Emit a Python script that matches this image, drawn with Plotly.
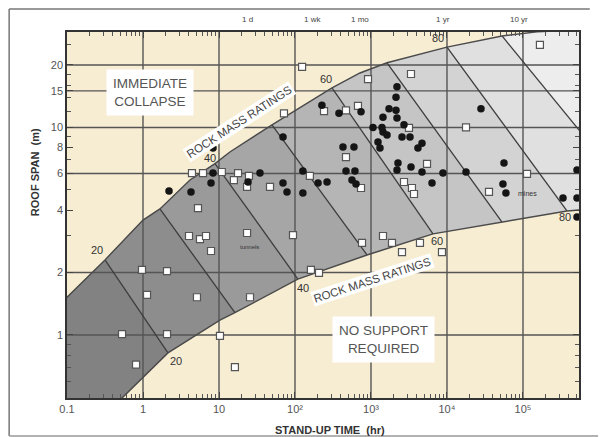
import math
import plotly.graph_objects as go

# ---------------- data (hours, metres) ----------------
# filled circles
circ_x = [2.2, 4.28, 7.85, 8.34, 8.34, 24.1, 34.6, 69.5, 69.5, 78.5, 127, 127, 201, 264,
          226, 379, 739, 428, 597, 469, 615, 562, 635,
          2198, 2133, 1726, 2133, 2198, 1438, 1063, 1395, 1438, 1625, 2718, 2558, 3259,
          1236, 1313, 4690, 4150, 2265, 2198, 3360, 4690, 6350, 8850, 17800, 28000,
          56200, 54500, 59700, 336000, 514000, 514000, 514000]
circ_y = [4.94, 4.89, 5.40, 7.96, 6.03, 5.46, 6.03, 9.0, 5.40, 4.89, 6.17, 4.83, 5.40, 5.46,
          12.8, 11.7, 11.9, 8.05, 8.05, 6.17, 6.17, 5.58, 5.34,
          15.7, 14.0, 12.3, 12.1, 11.1, 11.2, 10.0, 10.0, 9.5, 9.2, 10.3, 9.0, 9.0,
          8.5, 7.96, 8.4, 7.96, 6.74, 6.24, 6.45, 6.10, 5.40, 6.03, 6.10, 12.3,
          6.74, 5.34, 4.83, 4.57, 4.57, 6.24, 3.70]

# open squares
sq_x = [4.41, 6.16, 10.9, 17.8, 24.8, 15.7, 23.4, 46.9, 5.29, 71.6, 124, 157, 241, 469, 674,
        469, 914, 3360, 3162, 17800, 5460, 2718, 3460, 3680, 739, 113000, 35700, 167000,
        4.03, 5.62, 6.75, 7.85, 0.97, 2.07, 1.13, 5.13, 0.53, 2.07, 10.3, 0.81, 16.2,
        23.4, 94.1, 762, 1438, 1889, 2558, 4410, 8590, 162, 207, 25.6]
sq_y = [6.03, 6.03, 6.10, 6.03, 5.84, 5.58, 5.17, 5.17, 4.09, 11.7, 19.6, 5.84, 12.0, 12.1, 12.7,
        7.2, 17.1, 18.1, 9.95, 10.0, 6.67, 5.46, 5.11, 4.78, 5.11, 5.97, 4.89, 25.0,
        3.00, 2.90, 3.00, 2.54, 2.06, 2.03, 1.56, 1.52, 1.01, 1.01, 0.99, 0.72, 0.70,
        3.10, 3.03, 2.78, 3.00, 2.78, 2.51, 2.78, 2.51, 2.06, 1.99, 1.52]

# upper limit curve (immediate collapse)
up_x = [0.05, 0.1, 0.316, 1.0, 1.67, 4.15, 8.86, 13.9, 49.8, 307, 716, 1625, 10000, 27200, 53000, 153000, 700000]
up_y = [1.2, 1.52, 2.30, 3.58, 4.05, 5.58, 6.7, 7.62, 10.3, 15.5, 18.3, 20.5, 24.4, 26.4, 27.6, 28.9, 29.6]
# lower limit curve (no support required)
lo_x = [0.05, 0.37, 0.53, 2.13, 10.3, 16.2, 109, 886, 6540, 53000, 100000, 379000, 700000]
lo_y = [0.3, 0.41, 0.497, 0.82, 1.18, 1.28, 1.86, 2.43, 3.07, 3.50, 3.66, 3.96, 4.03]

# rock mass rating contours: index into upper / lower curve
rmr_vals = [20, 30, 40, 50, 60, 70, 80]
rmr_up_idx = [2, 4, 6, 8, 9, 11, 12]
rmr_lo_idx = [3, 5, 6, 7, 8, 9, 11]
# RMR 90 contour leaves the chart through the right edge
rmr90_up_idx = 14
rmr90_end = (762000, 8.38)

band_colors = ["#ededed", "#e0e0e0", "#d3d3d3", "#c5c5c5", "#b5b5b5",
               "#a6a6a6", "#9a9a9a", "#8d8d8d", "#828282"]

x_ticks = [0.1, 1, 10, 100, 1e3, 1e4, 1e5]
x_ticktext = ["0.1", "1", "10", "10²", "10³", "10⁴", "10⁵"]
y_ticks = [1, 2, 4, 6, 8, 10, 15, 20]
y_ticktext = ["1", "2", "4", "6", "8", "10", "15", "20"]
grid_x = [1, 10, 100, 1e3, 1e4, 1e5]
grid_y = [1, 2, 6, 10, 15, 20]

time_labels = ["1 d", "1 wk", "1 mo", "1 yr", "10 yr"]
time_hours = [24, 168, 720, 8760, 87600]

rmr_label_text = ["20", "20", "40", "40", "60", "60", "80", "80"]
rmr_label_x = [0.248, 2.72, 7.62, 127, 256, 7380, 7620, 357000]
rmr_label_y = [2.57, 0.75, 7.13, 1.68, 17.1, 2.84, 27.0, 3.71]

# ---------------- figure ----------------
FONT = "Liberation Sans Narrow, Liberation Sans, Arial, sans-serif"
NOGRID = "rgba(0,0,0,0)"
fig = go.Figure()


def poly(iu, il, extra=None):
    xs = up_x[:iu + 1]
    ys = up_y[:iu + 1]
    if extra is not None:
        xs = xs + [extra[0]]
        ys = ys + [extra[1]]
    xs = xs + lo_x[:il + 1][::-1]
    ys = ys + lo_y[:il + 1][::-1]
    return xs, ys


polys = [poly(len(up_x) - 1, len(lo_x) - 1),
         poly(rmr90_up_idx, len(lo_x) - 1, rmr90_end)]
for iu, il in list(zip(rmr_up_idx, rmr_lo_idx))[::-1]:
    polys.append(poly(iu, il))

for (px, py), col in zip(polys, band_colors):
    fig.add_trace(go.Scatter(x=px, y=py, mode="lines", fill="toself", fillcolor=col,
                             line=dict(width=0), hoverinfo="skip", showlegend=False))

# gridlines (above the shading)
gx, gy = [], []
for v in grid_x:
    gx += [v, v, None]
    gy += [0.3, 40, None]
for v in grid_y:
    gx += [0.05, 1e6, None]
    gy += [v, v, None]
fig.add_trace(go.Scatter(x=gx, y=gy, mode="lines", line=dict(color="#555555", width=1.4),
                         hoverinfo="skip", showlegend=False))

# contour lines
cx, cy = [], []
for iu, il in zip(rmr_up_idx, rmr_lo_idx):
    cx += [up_x[iu], lo_x[il], None]
    cy += [up_y[iu], lo_y[il], None]
cx += [up_x[rmr90_up_idx], rmr90_end[0], None]
cy += [up_y[rmr90_up_idx], rmr90_end[1], None]
fig.add_trace(go.Scatter(x=cx, y=cy, mode="lines", line=dict(color="#3d3d3d", width=1.3),
                         hoverinfo="skip", showlegend=False))

# boundary curves
fig.add_trace(go.Scatter(x=up_x, y=up_y, mode="lines", line=dict(color="#4a4a4a", width=1.4),
                         hoverinfo="skip", showlegend=False))
fig.add_trace(go.Scatter(x=lo_x, y=lo_y, mode="lines", line=dict(color="#4a4a4a", width=1.4),
                         hoverinfo="skip", showlegend=False))

# data
fig.add_trace(go.Scatter(x=sq_x, y=sq_y, mode="markers", cliponaxis=False,
                         marker=dict(symbol="square", size=7, color="white",
                                     line=dict(color="#555555", width=1.2)),
                         showlegend=False))
fig.add_trace(go.Scatter(x=circ_x, y=circ_y, mode="markers", cliponaxis=False,
                         marker=dict(symbol="circle", size=7.5, color="#151515",
                                     line=dict(width=0)),
                         showlegend=False))

ann = []
for t, xv, yv in zip(rmr_label_text, rmr_label_x, rmr_label_y):
    ann.append(dict(x=math.log10(xv), y=math.log10(yv), xref="x", yref="y", text=t,
                    xanchor="center", yanchor="middle",
                    showarrow=False, font=dict(family=FONT, size=11, color="#333333")))
for t, h in zip(time_labels, time_hours):
    ann.append(dict(x=math.log10(h), y=1.033, xref="x", yref="paper", text=t,
                    xanchor="center", yanchor="middle",
                    showarrow=False, font=dict(family=FONT, size=8, color="#444444")))

ann += [
    dict(x=0.162, y=0.836, text="IMMEDIATE<br>COLLAPSE", bgcolor="white", borderpad=6,
         font=dict(family=FONT, size=13.5, color="#555555")),
    dict(x=0.619, y=0.161, text="NO SUPPORT<br>REQUIRED", bgcolor="white", borderpad=6,
         font=dict(family=FONT, size=13.5, color="#555555")),
    dict(x=0.336, y=0.754, text="ROCK MASS RATINGS", textangle=-33, bgcolor="white", borderpad=1,
         font=dict(family=FONT, size=11.5, color="#444444")),
    dict(x=0.596, y=0.322, text="ROCK MASS RATINGS", textangle=-18, bgcolor="white", borderpad=1,
         font=dict(family=FONT, size=11.5, color="#444444")),
    dict(x=0.357, y=0.413, text="tunnels", font=dict(family=FONT, size=6, color="#333333")),
    dict(x=0.900, y=0.560, text="mines", font=dict(family=FONT, size=7, color="#333333")),
    dict(x=-0.0625, y=0.617, text="<b>ROOF SPAN  (m)</b>", textangle=-90,
         font=dict(family=FONT, size=11, color="#333333")),
    dict(x=0.514, y=-0.087, text="<b>STAND-UP TIME  (hr)</b>",
         font=dict(family=FONT, size=11, color="#333333")),
]
for a in ann[-8:]:
    a.update(xref="paper", yref="paper", showarrow=False, xanchor="center", yanchor="middle")

minor_x = [m * 10 ** k for k in range(-1, 6) for m in range(2, 10)]
minor_y = [0.6, 0.7, 0.8, 0.9, 3, 5, 7, 9, 12, 14, 16, 18, 25]

# page body adds an 8 px offset, so the figure is 8 px smaller on each axis
fig.update_layout(
    width=598, height=429,
    margin=dict(l=59, r=27, t=24, b=39),
    paper_bgcolor="white",
    plot_bgcolor="#f7edd2",
    annotations=ann,
    showlegend=False,
    shapes=[
        dict(type="line", xref="paper", yref="paper", x0=-0.113, x1=1.021, y0=1.063, y1=1.063,
             line=dict(color="#777777", width=1.5)),
        dict(type="line", xref="paper", yref="paper", x0=-0.113, x1=-0.113, y0=1.063, y1=-0.104,
             line=dict(color="#777777", width=1.5)),
        dict(type="line", xref="paper", yref="paper", x0=-0.113, x1=1.06, y0=-0.104, y1=-0.104,
             line=dict(color="#999999", width=1.5)),
    ],
)
fig.update_xaxes(type="log", range=[-1, 5.737], tickvals=x_ticks, ticktext=x_ticktext,
                 showgrid=False, gridcolor=NOGRID, zeroline=False, showline=True,
                 linecolor="#333333", linewidth=1.5,
                 mirror="allticks", ticks="inside", ticklen=6, tickcolor="#444444",
                 tickfont=dict(family=FONT, size=11, color="#555555"),
                 minor=dict(tickvals=minor_x, ticks="inside", ticklen=4, tickcolor="#555555",
                            showgrid=False, gridcolor=NOGRID))
fig.update_yaxes(type="log", range=[-0.3036, 1.46], tickvals=y_ticks, ticktext=y_ticktext,
                 showgrid=False, gridcolor=NOGRID, zeroline=False, showline=True,
                 linecolor="#333333", linewidth=1.5,
                 mirror="allticks", ticks="inside", ticklen=6, tickcolor="#444444",
                 tickfont=dict(family=FONT, size=11, color="#555555"),
                 minor=dict(tickvals=minor_y, ticks="inside", ticklen=4, tickcolor="#555555",
                            showgrid=False, gridcolor=NOGRID))

fig.write_html("out.html")
